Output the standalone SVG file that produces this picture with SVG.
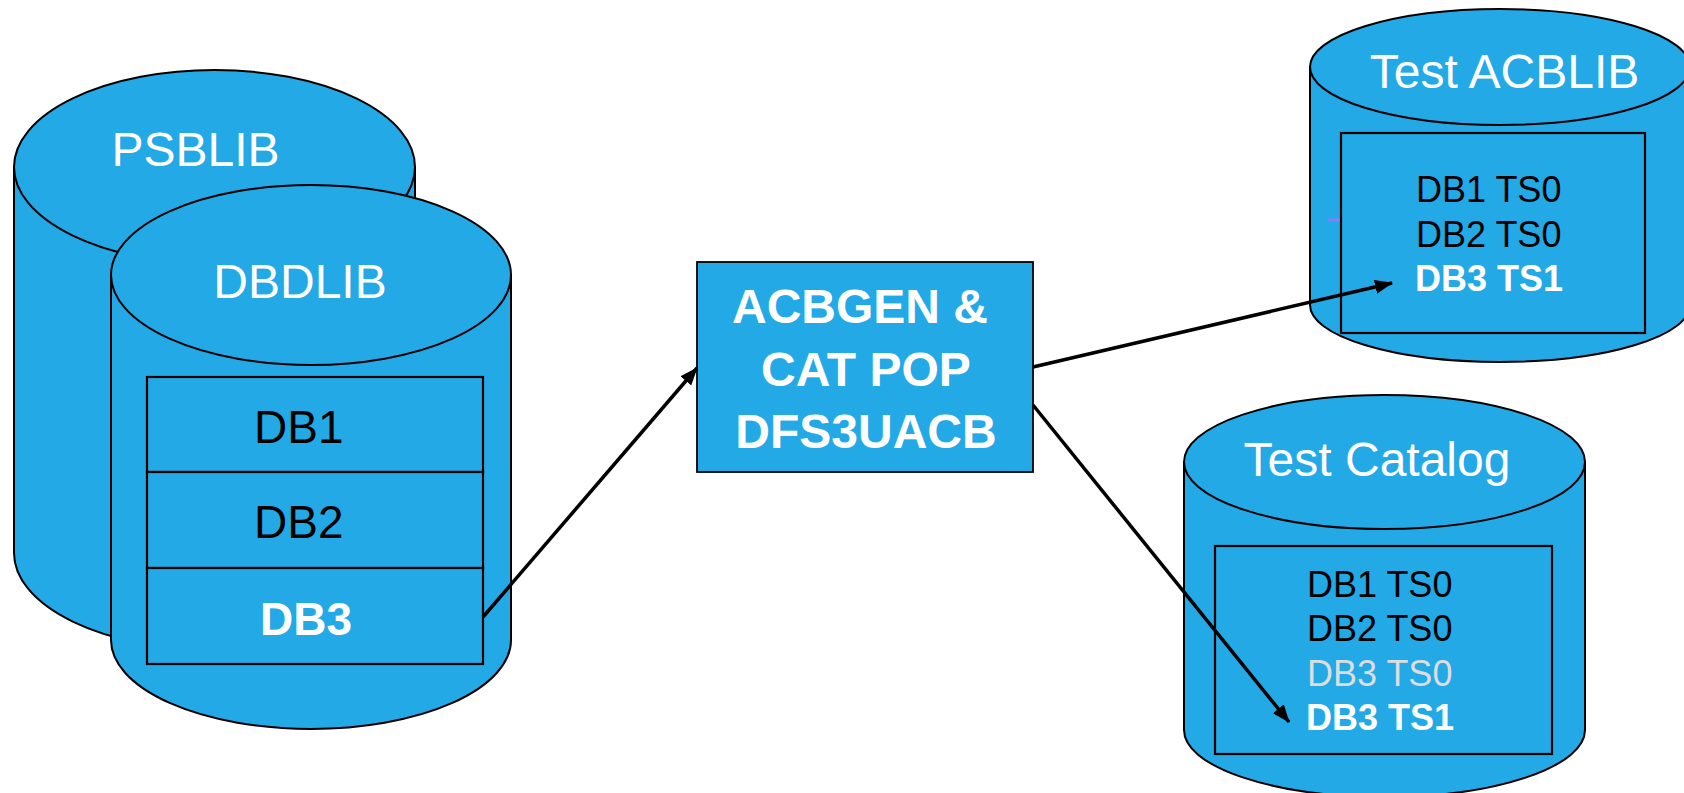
<svg xmlns="http://www.w3.org/2000/svg" width="1684" height="793" viewBox="0 0 1684 793">
  <style>
    .cyl { fill: #22A9E6; stroke: #000; stroke-width: 2; }
    .box { fill: #22A9E6; stroke: #000; stroke-width: 2.2; }
    .lbl { font-family: "Liberation Sans", Arial, sans-serif; font-size: 48px; fill: #fff; }
    .row { font-family: "Liberation Sans", Arial, sans-serif; font-size: 46px; fill: #000; }
    .ts { font-family: "Liberation Sans", Arial, sans-serif; font-size: 36px; fill: #000; }
    .b { font-weight: bold; fill: #fff; }
    .gray { fill: #DDDDDD; }
    .mid { font-family: "Liberation Sans", Arial, sans-serif; font-size: 48px; font-weight: bold; fill: #fff; text-anchor: middle; }
    .conn { stroke: #000; stroke-width: 3.5; fill: none; marker-end: url(#arrow); }
  </style>
  <defs>
    <marker id="arrow" markerUnits="userSpaceOnUse" markerWidth="20" markerHeight="16" refX="17" refY="7" orient="auto">
      <path d="M0,0 L18,7 L0,14 Z" fill="#000"/>
    </marker>
  </defs>
  <rect width="1684" height="793" fill="#fff"/>

  <g id="psblib">
    <path class="cyl" d="M14,167 L14,553 A200.5,97 0 0 0 415,553 L415,167 Z"/>
    <ellipse class="cyl" cx="214.5" cy="167" rx="200.5" ry="97"/>
    <text class="lbl" x="195.5" y="166" text-anchor="middle">PSBLIB</text>
  </g>

  <g id="dbdlib">
    <path class="cyl" d="M111,275 L111,640 A200,89 0 0 0 511,640 L511,275 Z"/>
    <ellipse class="cyl" cx="311" cy="275" rx="200" ry="90"/>
    <text class="lbl" x="300" y="298" text-anchor="middle">DBDLIB</text>
    <rect class="box" x="147" y="377" width="336" height="95"/>
    <rect class="box" x="147" y="472" width="336" height="96"/>
    <rect class="box" x="147" y="568" width="336" height="96"/>
    <text class="row" x="254" y="443">DB1</text>
    <text class="row" x="254" y="538">DB2</text>
    <text class="row b" x="260" y="635">DB3</text>
  </g>

  <g id="acbgen">
    <rect x="697" y="262" width="336" height="210" fill="#22A9E6" stroke="#000" stroke-width="1.8"/>
    <text class="mid" x="860" y="323">ACBGEN &amp;</text>
    <text class="mid" x="866" y="386">CAT POP</text>
    <text class="mid" x="866" y="448">DFS3UACB</text>
  </g>

  <g id="test-acblib">
    <path class="cyl" d="M1310,67 L1310,305 A190,57 0 0 0 1690,305 L1690,67 Z"/>
    <ellipse class="cyl" cx="1500" cy="67" rx="190" ry="58"/>
    <text class="lbl" x="1504.5" y="88" text-anchor="middle">Test ACBLIB</text>
    <rect class="box" x="1341" y="133" width="304" height="200"/>
    <line x1="1328" y1="220" x2="1340" y2="220" stroke="#8080FF" stroke-width="3"/>
    <text class="ts" x="1416" y="202">DB1 TS0</text>
    <text class="ts" x="1416" y="247">DB2 TS0</text>
    <text class="ts b" x="1415" y="291">DB3 TS1</text>
  </g>

  <g id="test-catalog">
    <path class="cyl" d="M1184,462 L1184,730 A200.5,67 0 0 0 1585,730 L1585,462 Z"/>
    <ellipse class="cyl" cx="1384.5" cy="462" rx="200.5" ry="67"/>
    <text class="lbl" x="1377" y="476" text-anchor="middle">Test Catalog</text>
    <rect class="box" x="1215" y="546" width="337" height="208"/>
    <text class="ts" x="1307" y="597">DB1 TS0</text>
    <text class="ts" x="1307" y="641">DB2 TS0</text>
    <text class="ts gray" x="1307" y="686">DB3 TS0</text>
    <text class="ts b" x="1306" y="730">DB3 TS1</text>
  </g>

  <g id="connectors">
    <line class="conn" x1="483" y1="617" x2="697" y2="368"/>
    <line class="conn" x1="1033" y1="367" x2="1392" y2="283"/>
    <line class="conn" x1="1033" y1="405" x2="1289" y2="722"/>
  </g>
</svg>
